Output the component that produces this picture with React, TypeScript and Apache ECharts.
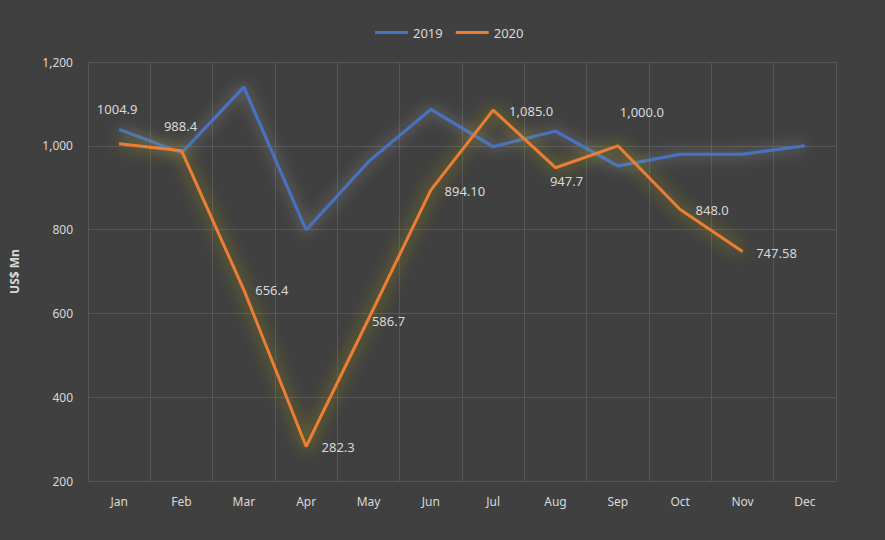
import React, { useEffect, useRef } from "react";
import * as echarts from "echarts";

const months = ["Jan", "Feb", "Mar", "Apr", "May", "Jun", "Jul", "Aug", "Sep", "Oct", "Nov", "Dec"];
const values2019 = [1039, 983, 1140, 799, 962, 1087, 998, 1035, 952, 980, 980, 1000];
const values2020 = [1004.9, 988.4, 656.4, 282.3, 586.7, 894.1, 1085.0, 947.7, 1000.0, 848.0, 747.58];
const labels2020 = ["1004.9", "988.4", "656.4", "282.3", "586.7", "894.10", "1,085.0", "947.7", "1,000.0", "848.0", "747.58"];
const yTicks = { min: 200, max: 1200, interval: 200 };

// label offsets (pixels) relative to each point, styling only
const labelOffsets: [number, number][] = [
  [-2, -35], [-1, -25], [28, 0], [32, 0], [20, 2], [34, 1], [38, 1], [11, 13], [24, -34], [32, 1], [34, 1],
];

const TEXT = "#d9d9d9";
const FONT = "Noto Sans";

export default function App() {
  const ref = useRef<HTMLDivElement>(null);
  useEffect(() => {
    document.body.style.margin = "0";
    const chart = echarts.init(ref.current!, null, { renderer: "svg" });
    chart.setOption({
      animation: false,
      backgroundColor: "#404040",
      textStyle: { fontFamily: FONT },
      legend: {
        left: 370,
        top: 21,
        icon: "rect",
        itemWidth: 33,
        itemHeight: 3,
        itemGap: 13,
        textStyle: { color: TEXT, fontSize: 13, fontFamily: FONT },
        data: ["2019", "2020"],
      },
      grid: { left: 88, right: 49, top: 62, bottom: 59, containLabel: false },
      xAxis: {
        type: "category",
        data: months,
        boundaryGap: true,
        axisLine: { show: false },
        axisTick: { show: false },
        axisLabel: { color: TEXT, fontSize: 12, margin: 14, fontFamily: FONT },
        splitLine: { show: true, lineStyle: { color: "#575757", width: 1 } },
      },
      yAxis: {
        type: "value",
        min: yTicks.min,
        max: yTicks.max,
        interval: yTicks.interval,
        name: "US$ Mn",
        nameLocation: "middle",
        nameGap: 68,
        nameTextStyle: { color: TEXT, fontSize: 12, fontWeight: "bold", fontFamily: FONT },
        axisLine: { show: false },
        axisTick: { show: false },
        axisLabel: {
          color: TEXT,
          fontSize: 12,
          margin: 15,
          fontFamily: FONT,
          formatter: (v: number) => v.toLocaleString("en-US"),
        },
        splitLine: { show: true, lineStyle: { color: "#575757", width: 1 } },
      },
      series: [
        {
          name: "2019",
          type: "line",
          data: values2019,
          symbol: "none",
          color: "#4472C4",
          lineStyle: {
            color: "#4472C4",
            width: 3,
            shadowColor: "rgba(215,215,215,0.55)",
            shadowBlur: 14,
          },
          z: 2,
        },
        {
          name: "2020",
          type: "line",
          data: values2020.map((v, i) => ({
            value: v,
            label: {
              show: true,
              position: "inside",
              offset: labelOffsets[i],
              formatter: () => labels2020[i],
            },
          })),
          symbol: "circle",
          symbolSize: 1,
          showSymbol: true,
          color: "#ED7D31",
          itemStyle: { color: "#ED7D31" },
          label: { color: TEXT, fontSize: 13, fontFamily: FONT },
          lineStyle: {
            color: "#ED7D31",
            width: 3,
            shadowColor: "rgba(200,190,10,0.85)",
            shadowBlur: 16,
          },
          z: 3,
        },
      ],
    });
    return () => chart.dispose();
  }, []);
  return <div ref={ref} style={{ width: 885, height: 540 }} />;
}
